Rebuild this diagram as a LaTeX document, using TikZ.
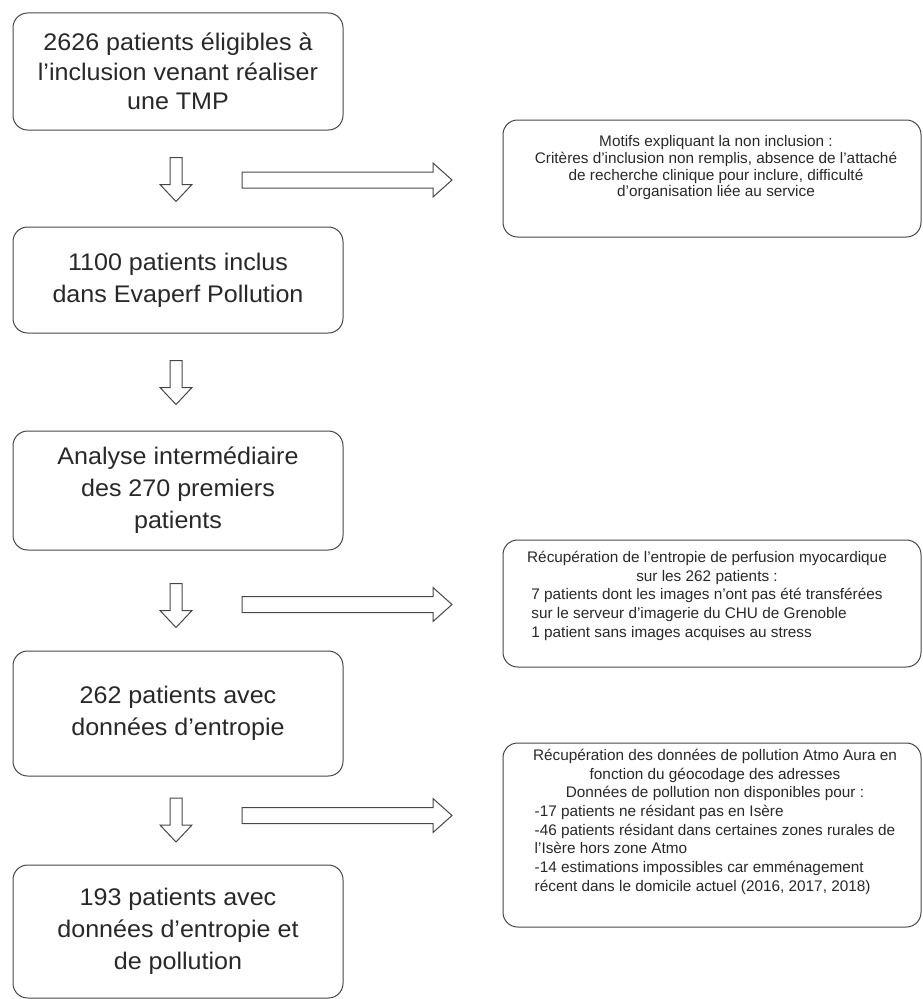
\documentclass[tikz,border=0pt]{standalone}
\usepackage{fontspec}
\setmainfont{Liberation Sans}
\newfontfamily\etapefont{Liberation Sans}[FakeStretch=1.045]
\usetikzlibrary{calc}
\definecolor{traitgris}{RGB}{70,70,70}
\definecolor{textegris}{RGB}{40,40,40}

\begin{document}
\begin{tikzpicture}[x=0.75pt, y=-0.75pt, traitgris, line width=0.75pt,
    etape/.style={draw, rounded corners=11pt, minimum width=247.5pt, align=center, text=textegris, inner sep=0pt, font=\etapefont\fontsize{18}{24}\selectfont},
    motif/.style={draw, rounded corners=11pt, minimum width=313.5pt, inner sep=0pt},
    motiftexte/.style={text=textegris, inner sep=0pt, align=center, font=\fontsize{11.5}{14}\selectfont},
    flechebas/.pic={\draw (-6,-22) -- (6,-22) -- (6,5) -- (16,5) -- (0,22) -- (-16,5) -- (-6,5) -- cycle;},
    flechedroite/.pic={\draw (-105,-8) -- (86,-8) -- (86,-17) -- (105,0) -- (86,17) -- (86,8) -- (-105,8) -- cycle;}]
    \useasboundingbox (0,0) rectangle (923,999);

    % colonne de gauche
    \node[etape, minimum height=87.75pt, font=\etapefont\fontsize{18}{22}\selectfont] (eligibles) at (178,71.5) {2626 patients éligibles à\\ l’inclusion venant réaliser\\ une TMP};
    \node[etape, minimum height=79.5pt] (inclus) at (178,280) {1100 patients inclus\\ dans Evaperf Pollution};
    \node[etape, minimum height=89.25pt] (analyse) at (178,490.5) {Analyse intermédiaire\\ des 270 premiers\\ patients};
    \node[etape, minimum height=93.75pt] (entropie) at (178,713.5) {262 patients avec\\ données d’entropie};
    \node[etape, minimum height=99.75pt] (pollution) at (178,931.5) {193 patients avec\\ données d’entropie et\\ de pollution};

    % motifs d'exclusion
    \node[motif, minimum height=87.75pt] (noninclus) at (712,178.5) {};
    \node[motiftexte, font=\fontsize{11.5}{12.5}\selectfont] (noninclustxt) at (716,168) {Motifs expliquant la non inclusion :\\ Critères d’inclusion non remplis, absence de l’attaché\\ de recherche clinique pour inclure, difficulté\\ d’organisation liée au service};
    \node[motif, minimum height=95.25pt] (images) at (712,603.5) {};
    \node[motiftexte] (imagestxt) at (707,597) {Récupération de l’entropie de perfusion myocardique\\ sur les 262 patients :\\
        \begin{tabular}[t]{@{}l@{}}7 patients dont les images n’ont pas été transférées\\ sur le serveur d’imagerie du CHU de Grenoble\\ 1 patient sans images acquises au stress\end{tabular}};
    \node[motif, minimum height=138pt] (atmo) at (712,835) {};
    \node[motiftexte] (atmotxt) at (715,823) {Récupération des données de pollution Atmo Aura en\\ fonction du géocodage des adresses\\ Données de pollution non disponibles pour :\\
        \begin{tabular}[t]{@{}l@{}}-17 patients ne résidant pas en Isère\\ -46 patients résidant dans certaines zones rurales de\\ l’Isère hors zone Atmo\\ -14 estimations impossibles car emménagement\\ récent dans le domicile actuel (2016, 2017, 2018)\end{tabular}};

    % fleches
    \foreach \y in {179.5,382.5,605.5,820}
        \pic at (176,\y) {flechebas};
    \foreach \y in {180,604.5,815.5}
        \pic at (347,\y) {flechedroite};
\end{tikzpicture}
\end{document}
